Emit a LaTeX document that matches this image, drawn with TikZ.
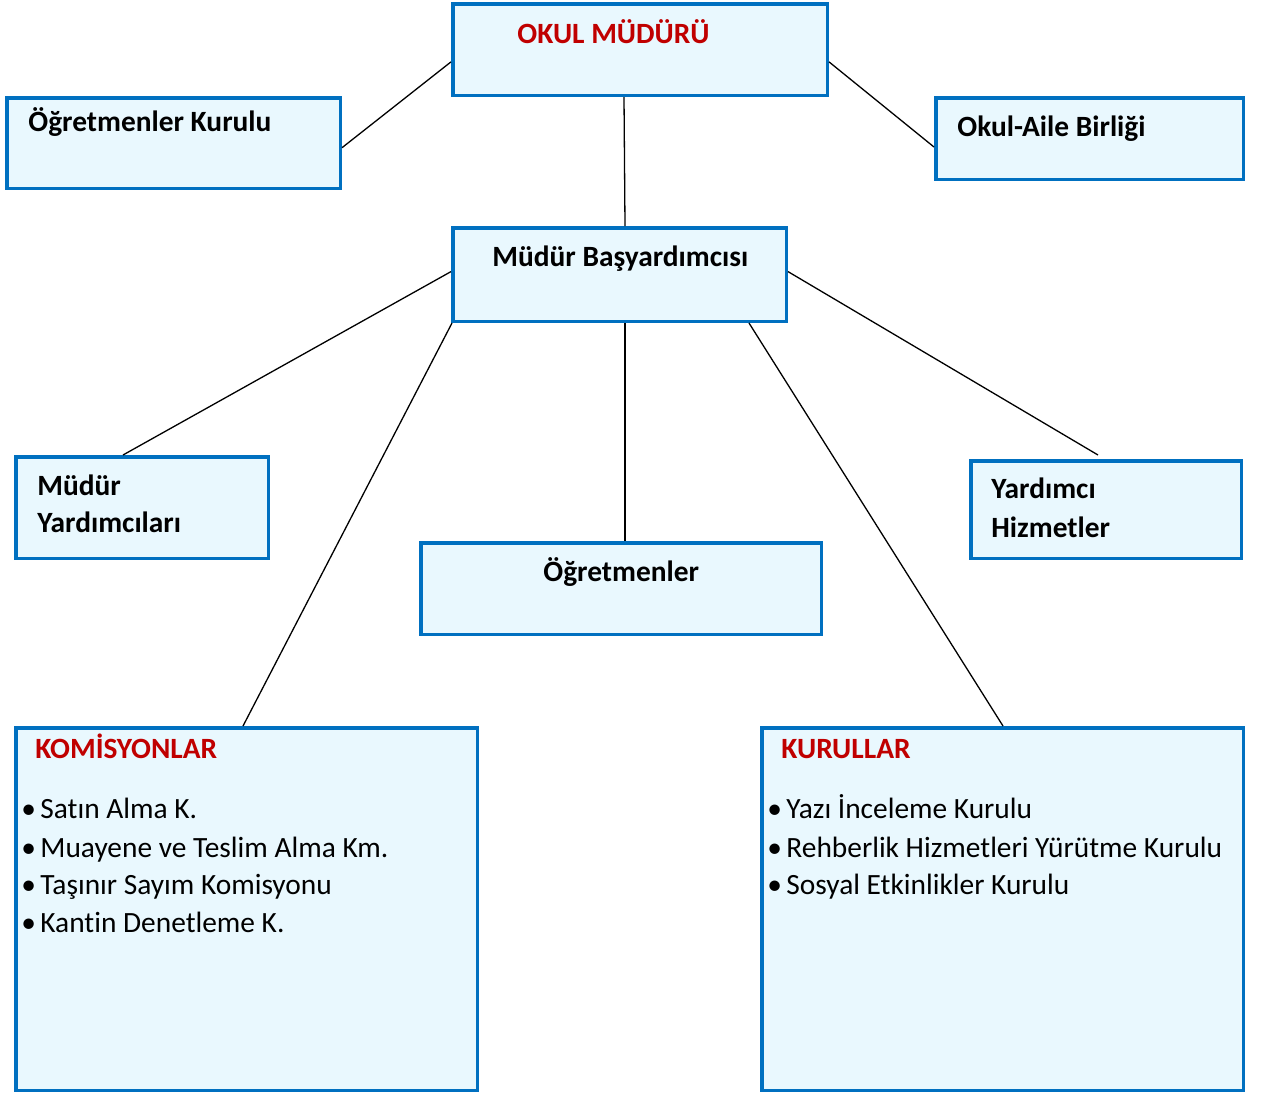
\documentclass[tikz,border=0pt]{standalone}
\usepackage{fontspec}
\setmainfont{Carlito}[Ligatures=CommonOff]
\usetikzlibrary{calc}
\definecolor{boxblue}{HTML}{0070C0}
\definecolor{boxfill}{HTML}{E9F8FE}
\definecolor{titlered}{HTML}{C00000}
\newcommand\boxat[5]{\node[orgbox, minimum width={(#4-#2-3.5)*0.5pt}, minimum height={(#5-#3-3.5)*0.5pt}] (#1) at ({(#2+#4)/2},{(#3+#5)/2}) {};}
\begin{document}
\begin{tikzpicture}[x=0.5pt,y=-0.5pt,
  orgbox/.style={draw=boxblue, fill=boxfill, line width=1.75pt, rectangle, inner sep=0pt},
  link/.style={draw=black, line width=0.65pt},
  btitle/.style={anchor=base west, inner sep=0pt, font=\fontsize{14.7pt}{18.75pt}\selectfont\bfseries, text=black},
  rtitle/.style={btitle, text=titlered},
  item/.style={anchor=base west, inner sep=0pt, font=\fontsize{14.7pt}{18.75pt}\selectfont, text=black}
]
\useasboundingbox (0,0) rectangle (1263,1094);
% boxes
\boxat{mudur}{451}{2}{829}{97}
\boxat{ogk}{5}{96}{342}{190}
\boxat{oab}{934}{96}{1245}{181}
\boxat{bas}{451}{226}{788}{323}
\boxat{my}{14}{455}{270}{560}
\boxat{ogr}{419}{541}{823}{636}
\boxat{yh}{969}{459}{1243}{560}
\boxat{kom}{14}{726}{479}{1092}
\boxat{kur}{760}{726}{1245}{1092}
% texts
\node[rtitle] (tmudur) at (517,43) {OKUL MÜDÜRÜ};
\node[btitle] (togk) at (28,131) {Öğretmenler Kurulu};
\node[btitle] (toab) at (957,136) {Okul-Aile Birliği};
\node[btitle] (tbas) at (492,266) {Müdür Başyardımcısı};
\node[btitle] (tmy1) at (37,495) {Müdür};
\node[btitle] (tmy2) at (37,532) {Yardımcıları};
\node[btitle] (togr) at (543,581) {Öğretmenler};
\node[btitle] (tyh1) at (991,498) {Yardımcı};
\node[btitle] (tyh2) at (991,537) {Hizmetler};
\node[rtitle] (tkom) at (35,758) {KOMİSYONLAR};
\node[item] (k1) at (21,818) {\makebox[9.5pt][l]{•}Satın Alma K.};
\node[item] (k2) at (21,857) {\makebox[9.5pt][l]{•}Muayene ve Teslim Alma Km.};
\node[item] (k3) at (21,894) {\makebox[9.5pt][l]{•}Taşınır Sayım Komisyonu};
\node[item] (k4) at (21,932) {\makebox[9.5pt][l]{•}Kantin Denetleme K.};
\node[rtitle] (tkur) at (781,758) {KURULLAR};
\node[item] (u1) at (767,818) {\makebox[9.5pt][l]{•}Yazı İnceleme Kurulu};
\node[item] (u2) at (767,857) {\makebox[9.5pt][l]{•}Rehberlik Hizmetleri Yürütme Kurulu};
\node[item] (u3) at (767,894) {\makebox[9.5pt][l]{•}Sosyal Etkinlikler Kurulu};
% connectors
\draw[link] ($(ogk.south east)!0.45!(ogk.north east)$) -- ($(mudur.south west)!0.37!(mudur.north west)$);
\draw[link] ($(mudur.south east)!0.37!(mudur.north east)$) -- ($(oab.south west)!0.4!(oab.north west)$);
\draw[link] ($(mudur.south)+(-16,0)$) -- ($(bas.north)+(5.5,0)$);
\draw[link] ($(bas.south west)!0.53!(bas.north west)$) -- ($(my.north west)+(109,0)$);
\draw[link] ($(bas.south west)+(1,0)$) -- ($(kom.north west)+(229,0)$);
\draw[link] ($(bas.south)+(5.5,0)$) -- ($(ogr.north)+(4,0)$);
\draw[link] ($(bas.south east)+(-39,0)$) -- ($(kur.north west)+(243,0)$);
\coordinate (yhend) at ($(yh.north west)+(129,-4)$);
\draw[link] ($(bas.south east)!0.53!(bas.north east)$) -- (yhend);
\end{tikzpicture}
\end{document}
